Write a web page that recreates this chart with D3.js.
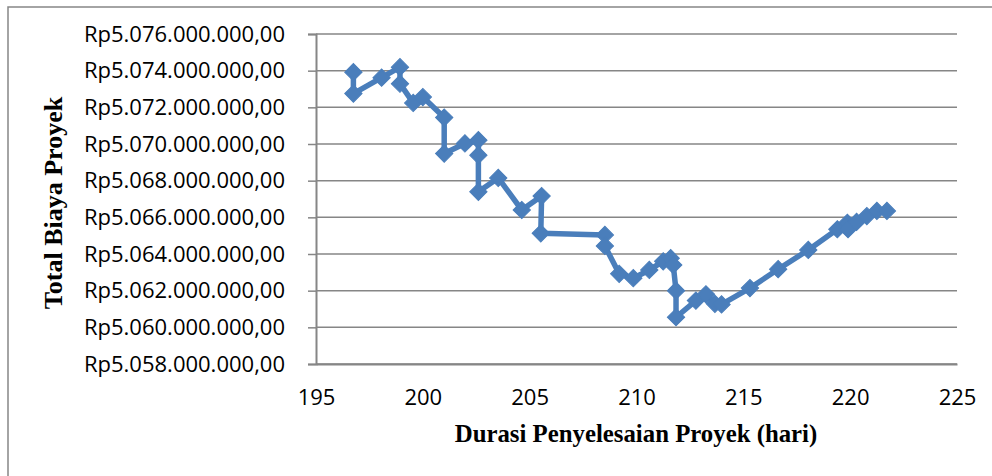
<!DOCTYPE html>
<html>
<head>
<meta charset="utf-8">
<script src="https://cdn.jsdelivr.net/npm/d3@7"></script>
<style>
  html, body { margin: 0; padding: 0; background: #fff; }
  svg { display: block; }
</style>
</head>
<body>
<div id="chart"></div>
<script>
// durasi (hari) vs total biaya (Rp), in the order the series is drawn
const durasi = [
  196.75, 196.75, 198.07, 198.93, 198.93, 199.55, 200.0, 201.0, 201.0, 201.97,
  202.6, 202.6, 202.6, 203.53, 204.63, 205.56, 205.52, 208.52, 208.52, 209.19,
  209.85, 210.6, 211.25, 211.6, 211.72, 211.85, 211.85, 212.78, 213.25, 213.67,
  213.98, 215.31, 216.63, 218.04, 219.4, 219.87, 219.9, 220.3, 220.78, 221.25,
  221.72
];
const biaya = [
  5073920000, 5072750000, 5073620000, 5074190000, 5073290000, 5072240000, 5072560000, 5071440000, 5069480000, 5070030000,
  5070210000, 5069390000, 5067390000, 5068150000, 5066400000, 5067160000, 5065130000, 5065040000, 5064440000, 5062920000,
  5062680000, 5063130000, 5063600000, 5063770000, 5063400000, 5062000000, 5060550000, 5061460000, 5061800000, 5061280000,
  5061250000, 5062140000, 5063170000, 5064220000, 5065350000, 5065700000, 5065350000, 5065750000, 5066070000, 5066350000,
  5066350000
];
const xTicks = [195, 200, 205, 210, 215, 220, 225];
const yTicks = [5058000000, 5060000000, 5062000000, 5064000000, 5066000000,
                5068000000, 5070000000, 5072000000, 5074000000, 5076000000];

const width = 992, height = 476;
const blue = "#4a7ebb", grid = "#868686";

const idr = d3.formatLocale({ decimal: ",", thousands: ".", grouping: [3], currency: ["Rp", ""] });
const fmtRp = idr.format("$,.2f");

const x = d3.scaleLinear().domain([195, 225]).range([316, 957]);
const y = d3.scaleLinear().domain([5058000000, 5076000000]).range([364, 34]);

const svg = d3.select("#chart").append("svg")
  .attr("width", width)
  .attr("height", height);

// outer chart border (runs off the right / bottom of the picture)
svg.append("rect")
  .attr("x", 8).attr("y", 7)
  .attr("width", width + 20).attr("height", height + 20)
  .attr("fill", "none")
  .attr("stroke", grid)
  .attr("stroke-width", 1.5);

// horizontal gridlines
svg.append("g")
  .selectAll("line")
  .data(yTicks)
  .join("line")
    .attr("x1", x(195)).attr("x2", x(225))
    .attr("y1", d => y(d)).attr("y2", d => y(d))
    .attr("stroke", grid)
    .attr("stroke-width", 1.5);

// y axis
const yAxis = svg.append("g")
  .attr("transform", `translate(${x(195)},0)`)
  .call(d3.axisLeft(y).tickValues(yTicks).tickFormat(fmtRp).tickSize(8).tickPadding(23));
yAxis.select(".domain").attr("stroke", grid).attr("stroke-width", 2);
yAxis.selectAll(".tick line").attr("stroke", grid).attr("stroke-width", 1.5);
yAxis.selectAll(".tick text")
  .attr("font-family", "'Open Sans', sans-serif")
  .attr("font-size", 22)
  .attr("fill", "#000");

// x axis (labels only, no tick marks)
const xAxis = svg.append("g")
  .attr("transform", `translate(0,${y(5058000000)})`)
  .call(d3.axisBottom(x).tickValues(xTicks).tickFormat(d3.format("d")).tickSize(0).tickPadding(25));
xAxis.select(".domain").attr("stroke", grid).attr("stroke-width", 2);
xAxis.selectAll(".tick text")
  .attr("font-family", "'Open Sans', sans-serif")
  .attr("font-size", 22)
  .attr("fill", "#000");

// series
const pts = durasi.map((d, i) => [d, biaya[i]]);
const line = d3.line().x(d => x(d[0])).y(d => y(d[1]));

svg.append("path")
  .datum(pts)
  .attr("d", line)
  .attr("fill", "none")
  .attr("stroke", blue)
  .attr("stroke-width", 5.5)
  .attr("stroke-linejoin", "round")
  .attr("stroke-linecap", "round");

svg.append("g")
  .selectAll("path")
  .data(pts)
  .join("path")
    .attr("d", d3.symbol(d3.symbolSquare, 150))
    .attr("transform", d => `translate(${x(d[0])},${y(d[1])}) rotate(45)`)
    .attr("fill", blue)
    .attr("stroke", blue)
    .attr("stroke-width", 1);

// axis titles
svg.append("text")
  .attr("x", 636).attr("y", 442)
  .attr("text-anchor", "middle")
  .attr("font-family", "'Liberation Serif', 'Times New Roman', serif")
  .attr("font-weight", "bold")
  .attr("font-size", 24.8)
  .text("Durasi Penyelesaian Proyek (hari)");

svg.append("text")
  .attr("transform", "translate(62,203) rotate(-90)")
  .attr("text-anchor", "middle")
  .attr("font-family", "'Liberation Serif', 'Times New Roman', serif")
  .attr("font-weight", "bold")
  .attr("font-size", 26)
  .text("Total Biaya Proyek");
</script>
</body>
</html>
